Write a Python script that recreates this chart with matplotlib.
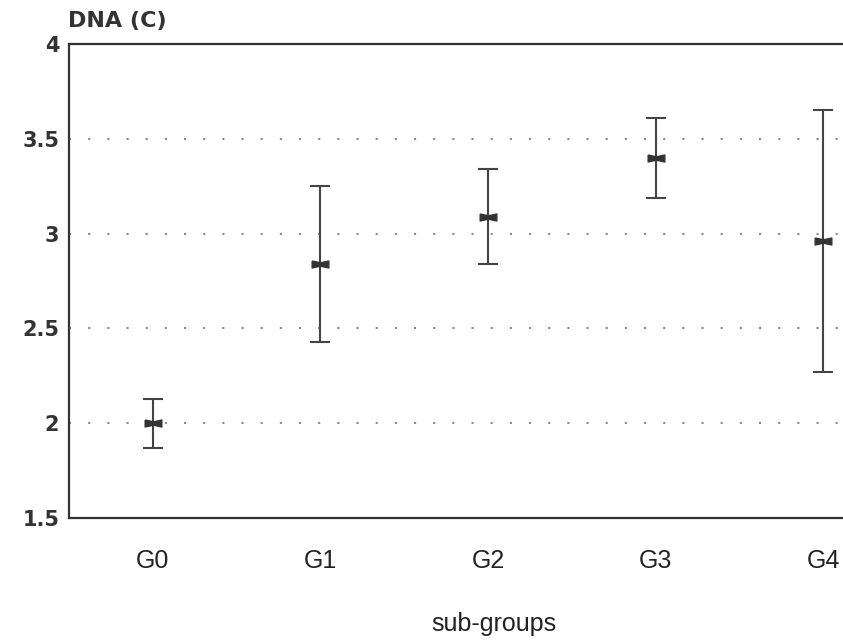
import matplotlib
matplotlib.use("Agg")
import matplotlib.pyplot as plt
import numpy as np

# data
groups = ["G0", "G1", "G2", "G3", "G4"]
dna_mean = [2.00, 2.84, 3.09, 3.40, 2.96]
dna_err = [0.13, 0.41, 0.25, 0.21, 0.69]
y_ticks = [1.5, 2, 2.5, 3, 3.5, 4]
y_tick_labels = ["1.5", "2", "2.5", "3", "3.5", "4"]
grid_levels = [2, 2.5, 3, 3.5]

ink = "#333333"
x = np.arange(len(groups))

fig = plt.figure(figsize=(8.43, 6.40), dpi=100)
# the scan cuts the plot box off on the right, so the axes run past the figure edge
ax = fig.add_axes([69 / 843, 122 / 640, 838 / 843, 474 / 640])
ax.set_xlim(-0.5, 4.5)
ax.set_ylim(1.5, 4)

for g in grid_levels:
    ax.axhline(g, color="#8a8a8a", lw=1.5, ls=(0, (1, 8.2)), zorder=1)

bowtie = [(-1, 0.42), (0, 0.2), (1, 0.42), (1, -0.42), (0, -0.2), (-1, -0.42), (-1, 0.42)]
ax.errorbar(x, dna_mean, yerr=dna_err, fmt="none", ecolor="#444444",
            elinewidth=1.5, capsize=7, capthick=1.5, zorder=3)
ax.plot(x, dna_mean, ls="none", marker=bowtie, ms=12, color="#333333", zorder=4)

for side in ["left", "top", "bottom"]:
    ax.spines[side].set_linewidth(1.6)
    ax.spines[side].set_color(ink)
ax.spines["right"].set_visible(False)

ax.set_yticks(y_ticks)
ax.set_yticklabels(y_tick_labels, fontfamily="DejaVu Sans", fontweight="bold",
                   fontsize=15, color=ink)
ax.set_xticks(x)
ax.set_xticklabels(groups, fontfamily="Liberation Sans", fontsize=18, color="#222222")
ax.tick_params(axis="both", length=0)
ax.tick_params(axis="y", pad=7)
ax.tick_params(axis="x", pad=22)

ax.set_xlabel("sub-groups", fontfamily="Liberation Sans", fontsize=18, color="#222222")
ax.xaxis.set_label_coords((494 - 69) / 838, -0.198)

fig.text(68 / 843, 1 - 27 / 640, "DNA (C)", fontfamily="DejaVu Sans",
         fontweight="bold", fontsize=16, color=ink, va="baseline", ha="left")

fig.savefig("out.png", dpi=100)
